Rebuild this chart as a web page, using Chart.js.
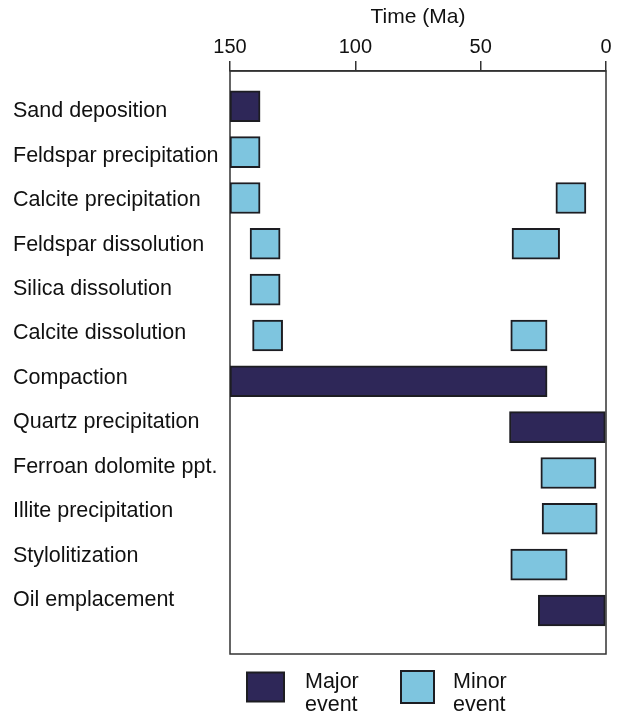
<!DOCTYPE html>
<html>
<head>
<meta charset="utf-8">
<script src="https://cdn.jsdelivr.net/npm/chart.js@4.4.0/dist/chart.umd.min.js"></script>
<style>
  html, body { margin: 0; padding: 0; background: #fff; }
  #wrap { position: relative; width: 619px; height: 715px; }
</style>
</head>
<body>
<div id="wrap"><canvas id="chart"></canvas></div>
<script>
// Diagenetic events, top to bottom
const events = [
    'Sand deposition',
    'Feldspar precipitation',
    'Calcite precipitation',
    'Feldspar dissolution',
    'Silica dissolution',
    'Calcite dissolution',
    'Compaction',
    'Quartz precipitation',
    'Ferroan dolomite ppt.',
    'Illite precipitation',
    'Stylolitization',
    'Oil emplacement'
];
const timeTicks = [150, 100, 50, 0];

// [row, start (Ma), end (Ma)]
const majorBars = [
    [0, 150, 138],
    [6, 150, 23.5],
    [7, 38.5, 0],
    [11, 27, 0]
];
const minorBars = [
    [1, 150, 138],
    [2, 150, 138],
    [2, 20, 8],
    [3, 142, 130],
    [3, 37.5, 18.5],
    [4, 142, 130],
    [5, 141, 129],
    [5, 38, 23.5],
    [8, 26, 4],
    [9, 25.5, 3.5],
    [10, 38, 15.5]
];

const MAJOR = '#2e2758';
const MINOR = '#7ec5df';
const EDGE = '#1d1d22';
const AXIS = '#333';
const FONT = "'Liberation Sans', Arial, Helvetica, sans-serif";

function toPoints(bars) {
    return bars.map(b => ({ y: b[0], x: [b[1], b[2]] }));
}

// frame round the plot
const frame = {
    id: 'frame',
    beforeDatasetsDraw(chart) {
        const { ctx, chartArea: a } = chart;
        ctx.save();
        ctx.strokeStyle = AXIS;
        ctx.lineWidth = 1.5;
        ctx.strokeRect(a.left, a.top, a.right - a.left, a.bottom - a.top);
        ctx.restore();
    }
};

// two-line legend under the plot
const legendBoxes = {
    id: 'legendBoxes',
    afterDraw(chart) {
        const { ctx, chartArea: a } = chart;
        const items = [
            { text: ['Major', 'event'], color: MAJOR, x: 247, w: 37, h: 29, tx: 305 },
            { text: ['Minor', 'event'], color: MINOR, x: 401, w: 33, h: 32, tx: 453 }
        ];
        ctx.save();
        ctx.font = '21.5px ' + FONT;
        ctx.textBaseline = 'alphabetic';
        ctx.textAlign = 'left';
        items.forEach(it => {
            const top = a.bottom + 33 - it.h / 2;
            ctx.fillStyle = it.color;
            ctx.fillRect(it.x, top, it.w, it.h);
            ctx.strokeStyle = EDGE;
            ctx.lineWidth = 2;
            ctx.strokeRect(it.x, top, it.w, it.h);
            ctx.fillStyle = '#111';
            ctx.fillText(it.text[0], it.tx, a.bottom + 34);
            ctx.fillText(it.text[1], it.tx, a.bottom + 57);
        });
        ctx.restore();
    }
};

new Chart(document.getElementById('chart'), {
    type: 'bar',
    data: {
        datasets: [
            {
                label: 'Major event',
                data: toPoints(majorBars),
                backgroundColor: MAJOR,
                borderColor: EDGE,
                borderWidth: 2,
                borderSkipped: false,
                yAxisID: 'yb'
            },
            {
                label: 'Minor event',
                data: toPoints(minorBars),
                backgroundColor: MINOR,
                borderColor: EDGE,
                borderWidth: 2,
                borderSkipped: false,
                yAxisID: 'yb'
            }
        ]
    },
    options: {
        indexAxis: 'y',
        responsive: true,
        maintainAspectRatio: false,
        animation: false,
        grouped: false,
        barThickness: 31,
        layout: { padding: { left: 13, right: 13, top: 0, bottom: 61 } },
        plugins: {
            legend: { display: false },
            tooltip: { enabled: false }
        },
        scales: {
            x: {
                type: 'linear',
                position: 'top',
                reverse: true,
                min: 0,
                max: 150,
                afterBuildTicks: s => { s.ticks = timeTicks.map(v => ({ value: v })); },
                afterFit: s => { s.height = 71; },
                ticks: {
                    color: '#111',
                    padding: 2,
                    font: { family: FONT, size: 20 }
                },
                grid: {
                    display: true,
                    drawOnChartArea: false,
                    drawTicks: true,
                    tickLength: 10,
                    color: AXIS,
                    lineWidth: 1.5
                },
                border: { display: true, color: AXIS, width: 1.5 },
                title: {
                    display: true,
                    text: 'Time (Ma)',
                    color: '#111',
                    padding: { top: 5, bottom: 0 },
                    font: { family: FONT, size: 21 }
                }
            },
            y: {
                type: 'linear',
                position: 'left',
                reverse: true,
                offset: false,
                bounds: 'data',
                min: -0.907,
                max: 12.215,
                afterBuildTicks: s => { s.ticks = events.map((_, i) => ({ value: i })); },
                afterFit: s => { s.width = 217; },
                ticks: {
                    autoSkip: false,
                    crossAlign: 'far',
                    color: '#111',
                    font: { family: FONT, size: 21.5 },
                    callback: v => events[v]
                },
                grid: { display: false },
                border: { display: false }
            },
            yb: {
                type: 'linear',
                display: false,
                reverse: true,
                offset: false,
                bounds: 'data',
                min: -0.77,
                max: 11.95
            }
        }
    },
    plugins: [frame, legendBoxes]
});
</script>
</body>
</html>
